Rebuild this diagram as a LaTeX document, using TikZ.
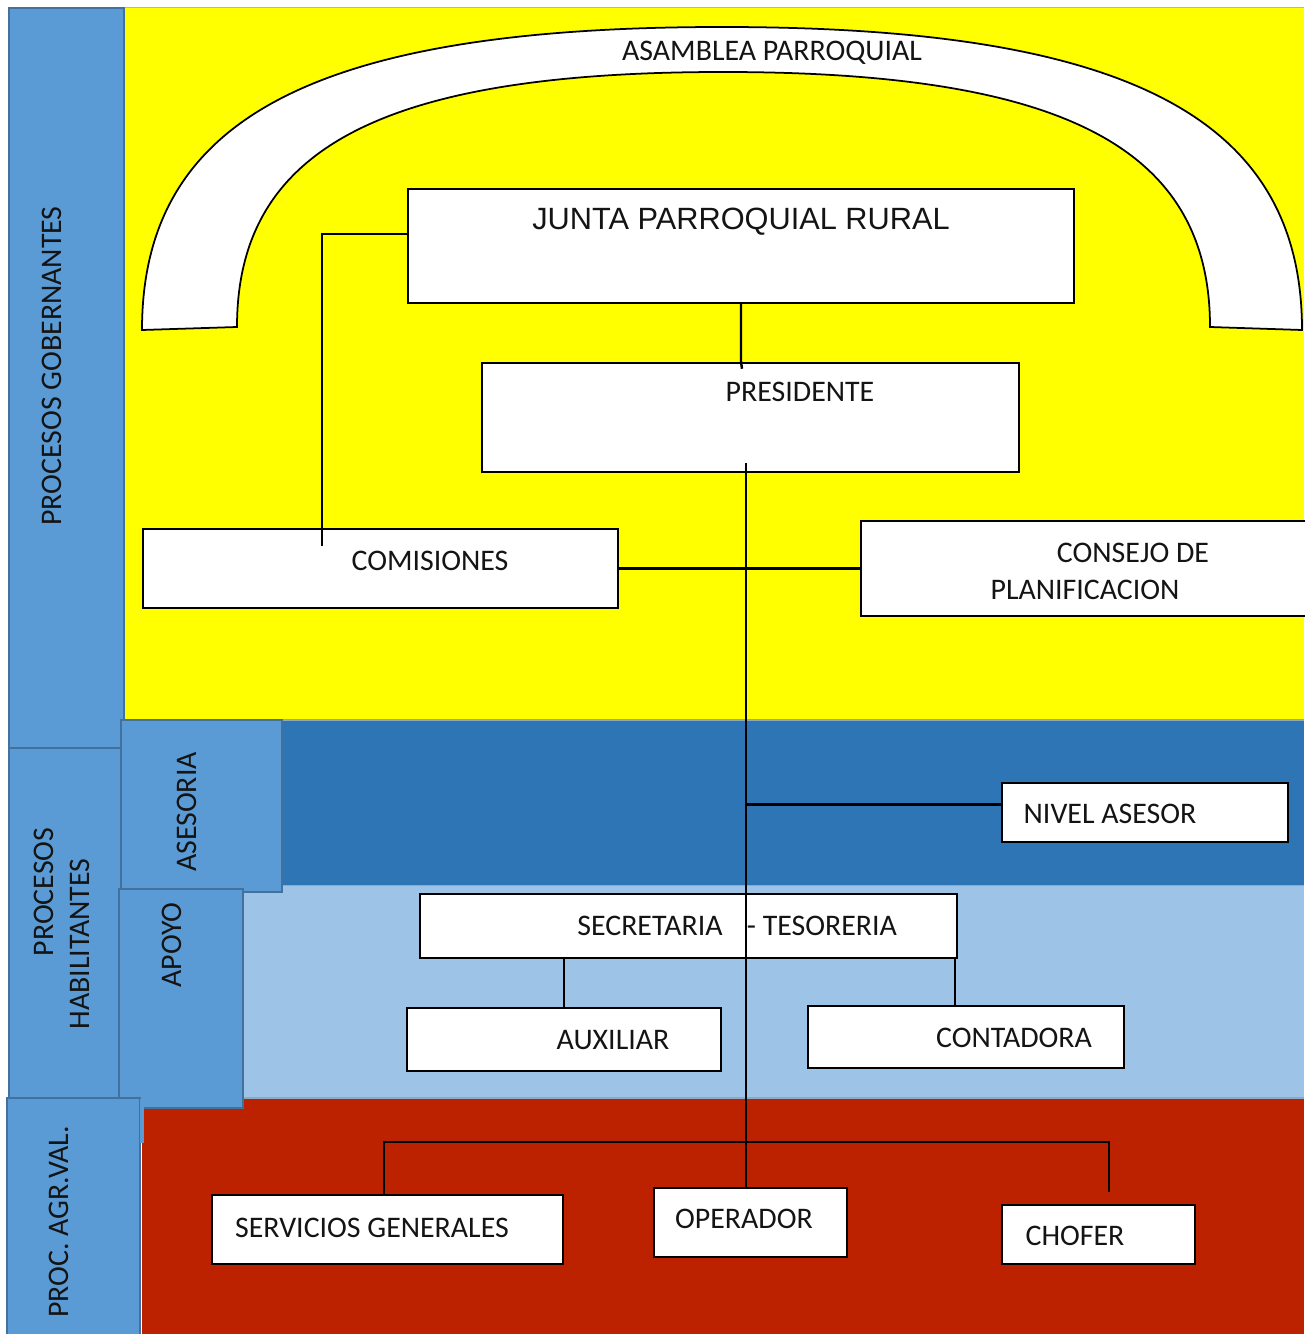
\documentclass[tikz,border=0pt]{standalone}
\usepackage{fontspec}
\setmainfont{Carlito}
\newfontfamily\titlefont{Liberation Sans}
\definecolor{govyellow}{HTML}{FFFF00}
\definecolor{sideblue}{HTML}{5B9BD5}
\definecolor{sideedge}{HTML}{41719C}
\definecolor{advblue}{HTML}{2E75B6}
\definecolor{supblue}{HTML}{9DC3E6}
\definecolor{valred}{RGB}{189,34,0}
\definecolor{inktext}{HTML}{141414}
\definecolor{rimline}{HTML}{A3B8CC}

\begin{document}
\begin{tikzpicture}[x=0.02cm,y=-0.02cm,
  orgbox/.style 2 args={draw=black, line width=1.4pt, fill=white, inner sep=0pt,
    minimum width=#1*0.02cm, minimum height=#2*0.02cm},
  txt/.style={font=\fontsize{17}{20}\selectfont, text=inktext, inner sep=0pt},
  vtxt/.style={txt, rotate=90},
  sidebox/.style={fill=sideblue, draw=sideedge, line width=0.7pt},
  link/.style={draw=black, line width=1.4pt}
]
\useasboundingbox (0,0) rectangle (1304,1334);
\fill[white] (0,0) rectangle (1304,1334);

% process bands
\fill[govyellow] (124,8) rectangle (1304,720);
\fill[advblue] (280,720) rectangle (1304,885);
\fill[supblue] (243,885) rectangle (1304,1098);
\fill[valred] (142,1098) rectangle (1304,1334);
\draw[rimline, line width=0.7pt] (9,7.5) -- (1304,7.5);
\draw[sideedge!60, line width=0.6pt] (280,720) -- (1304,720);
\draw[sideedge!60, line width=0.6pt] (243,885.5) -- (1304,885.5);
\draw[sideedge!60, line width=0.6pt] (243,1098) -- (1304,1098);

% side panels
\path[sidebox] (9,8) rectangle (124,748);
\path[sidebox] (9,748) rectangle (121,1098);
\path[sidebox] (121,720) rectangle (282,892);
\path[sidebox] (119,889) rectangle (243,1108);
\path[sidebox] (7,1098) rectangle (140,1340);
\fill[sideblue] (140.3,1098.5) rectangle (144,1143);

\node[vtxt] (gob) at (52,366) {PROCESOS GOBERNANTES};
\node[vtxt] (hab1) at (44,892) {PROCESOS};
\node[vtxt] (hab2) at (80,944) {HABILITANTES};
\node[vtxt] (ases) at (187,812) {ASESORIA};
\node[vtxt] (apoyo) at (172,945) {APOYO};
\node[vtxt] (agr) at (59,1222) {PROC. AGR.VAL.};

% assembly arch
\draw[fill=white, draw=black, line width=1pt]
  (142,330) .. controls (142,118) and (316,27) .. (722,27)
  .. controls (1128,27) and (1302,118) .. (1302,330)
  -- (1210,327)
  .. controls (1210,148) and (1064,72) .. (723,72)
  .. controls (383,72) and (237,148) .. (237,327) -- cycle;
\node[txt] (asam) at (772,53) {ASAMBLEA PARROQUIAL};

% boxes
\node[orgbox={666}{114}] (junta) at (741,246) {};
\node[orgbox={537}{109}] (pres) at (750.5,417.5) {};
\node[orgbox={475}{79}] (comis) at (380.5,568.5) {};
\node[orgbox={449}{95}] (consejo) at (1085.5,568.5) {};
\node[orgbox={286}{59}] (nivel) at (1145,812.5) {};
\node[orgbox={537}{64}] (sectes) at (688.5,926) {};
\node[orgbox={314}{63}] (aux) at (564,1039.5) {};
\node[orgbox={316}{62}] (conta) at (966,1037) {};
\node[orgbox={351}{69}] (serv) at (387.5,1229.5) {};
\node[orgbox={193}{69}] (oper) at (750.5,1222.5) {};
\node[orgbox={193}{59}] (chofer) at (1098.5,1234.5) {};

% connectors
\coordinate (spinetop) at (746,463);
\coordinate (jc) at (322,234);
\coordinate (na) at ([yshift=0.16cm]nivel.west);
\coordinate (tc) at ([xshift=-0.06cm]sectes.south east);
\coordinate (busl) at (384,1142);
\coordinate (busr) at (1109,1142);
\coordinate (chofertap) at (1109,1192);

\draw[link] (junta.south) -- (junta.south |- pres.north) -- ++(1,7);
\draw[link] (spinetop) -- (spinetop |- oper.north);
\draw[link] (junta.west |- jc) -- (jc) -- (jc |- comis.north) -- ++(0,18);
\draw[link] (comis.east) -- (consejo.west);
\draw[link] (spinetop |- na) -- (na);
\draw[link] (aux.north) -- (aux.north |- sectes.south);
\draw[link] (tc) -- (tc |- conta.north);
\draw[link] (busl |- serv.north) -- (busl) -- (busr) -- (chofertap);

% labels
\node[txt, font=\titlefont\fontsize{17.5}{20}\selectfont] (juntal) at (741,222) {JUNTA PARROQUIAL RURAL};
\node[txt] (presl) at (800,392) {PRESIDENTE};
\node[txt] (comisl) at (430,561) {COMISIONES};
\node[txt] (consejol1) at (1133,553) {CONSEJO DE};
\node[txt] (consejol2) at (1085,590) {PLANIFICACION};
\node[txt] (nivell) at (1110,814) {NIVEL ASESOR};
\node[txt] (secl) at (650,926) {SECRETARIA};
\node[txt] (tesl) at (822,926) {- TESORERIA};
\node[txt] (auxl) at (613,1040) {AUXILIAR};
\node[txt] (contal) at (1014,1038) {CONTADORA};
\node[txt] (servl) at (372,1228) {SERVICIOS GENERALES};
\node[txt] (operl) at (744,1219) {OPERADOR};
\node[txt] (choferl) at (1075,1236) {CHOFER};
\end{tikzpicture}
\end{document}
